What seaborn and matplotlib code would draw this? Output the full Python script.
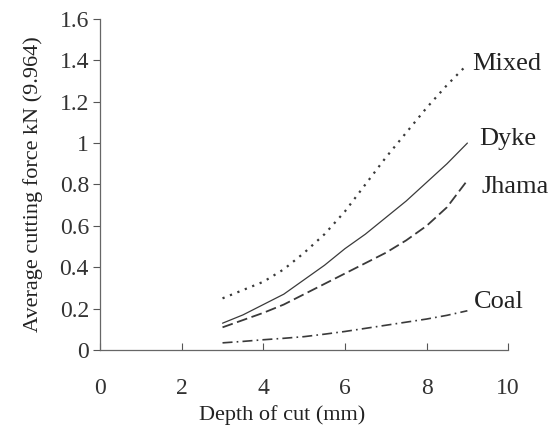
import matplotlib
matplotlib.use('Agg')
import matplotlib.pyplot as plt
import seaborn as sns
import pandas as pd

# data (every half mm)
depth = [3, 3.5, 4, 4.5, 5, 5.5, 6, 6.5, 7, 7.5, 8, 8.5, 9]
mixed = [0.25, 0.29, 0.33, 0.39, 0.47, 0.56, 0.67, 0.80, 0.93, 1.05, 1.17, 1.28, 1.38]
dyke = [0.13, 0.17, 0.22, 0.27, 0.34, 0.41, 0.49, 0.56, 0.64, 0.72, 0.81, 0.90, 1.00]
jhama = [0.11, 0.145, 0.18, 0.22, 0.27, 0.32, 0.37, 0.42, 0.47, 0.53, 0.60, 0.69, 0.82]
coal = [0.035, 0.042, 0.05, 0.057, 0.065, 0.077, 0.09, 0.105, 0.12, 0.135, 0.15, 0.168, 0.19]
series_names = ['Mixed', 'Dyke', 'Jhama', 'Coal']
x_ticks = [0, 2, 4, 6, 8, 10]
y_ticks = [0, 0.2, 0.4, 0.6, 0.8, 1, 1.2, 1.4, 1.6]
y_ticklabels = ['0', '0.2', '0.4', '0.6', '0.8', '1', '1.2', '1.4', '1.6']

df = pd.DataFrame({
    'depth': depth * 4,
    'force': mixed + dyke + jhama + coal,
    'rock': sum([[n] * len(depth) for n in series_names], []),
})

sns.set_style('ticks')
plt.rcParams['font.family'] = ['Liberation Serif', 'DejaVu Serif']
ink = '#3a3a3a'

fig = plt.figure(figsize=(5.5, 4.28), dpi=100)
ax = fig.add_axes([0.182, 0.182, 0.742, 0.774])

dash_map = {'Mixed': (1, 2.6), 'Dyke': '', 'Jhama': (6, 2.5), 'Coal': (6, 2.5, 1, 2.5)}
width_map = {'Mixed': 1.6, 'Dyke': 0.9, 'Jhama': 1.3, 'Coal': 1.2}
for name in series_names:
    sub = df[df['rock'] == name]
    sns.lineplot(data=sub, x='depth', y='force', ax=ax, color=ink,
                 lw=width_map[name], legend=False)
    line = ax.lines[-1]
    if dash_map[name]:
        line.set_dashes(dash_map[name])

# curve labels at the right ends
label_pos = {'Mixed': (9.12, 1.38), 'Dyke': (9.3, 1.02), 'Jhama': (9.35, 0.79), 'Coal': (9.15, 0.23)}
for name, (lx, ly) in label_pos.items():
    ax.text(lx, ly, name, fontsize=19, va='center', ha='left', color='#222222', clip_on=False)

ax.set_xlim(0, 10)
ax.set_ylim(0, 1.6)
ax.set_xticks(x_ticks)
ax.set_yticks(y_ticks)
ax.set_yticklabels(y_ticklabels)
ax.tick_params(axis='x', direction='in', length=5, width=0.8, colors='#555555',
               labelcolor='#333333', labelsize=17, pad=20)
ax.tick_params(axis='y', direction='out', length=5, width=0.8, colors='#555555',
               labelcolor='#333333', labelsize=17, pad=3)
for s in ['top', 'right']:
    ax.spines[s].set_visible(False)
for s in ['left', 'bottom']:
    ax.spines[s].set_color('#666666')
    ax.spines[s].set_linewidth(0.9)

ax.set_xlabel('Depth of cut (mm)', fontsize=16, color='#222222', labelpad=6)
ax.xaxis.set_label_coords(0.447, -0.165)
ax.set_ylabel('Average cutting force kN (9.964)', fontsize=16, color='#222222', labelpad=12)

fig.savefig('out.png', dpi=100)
